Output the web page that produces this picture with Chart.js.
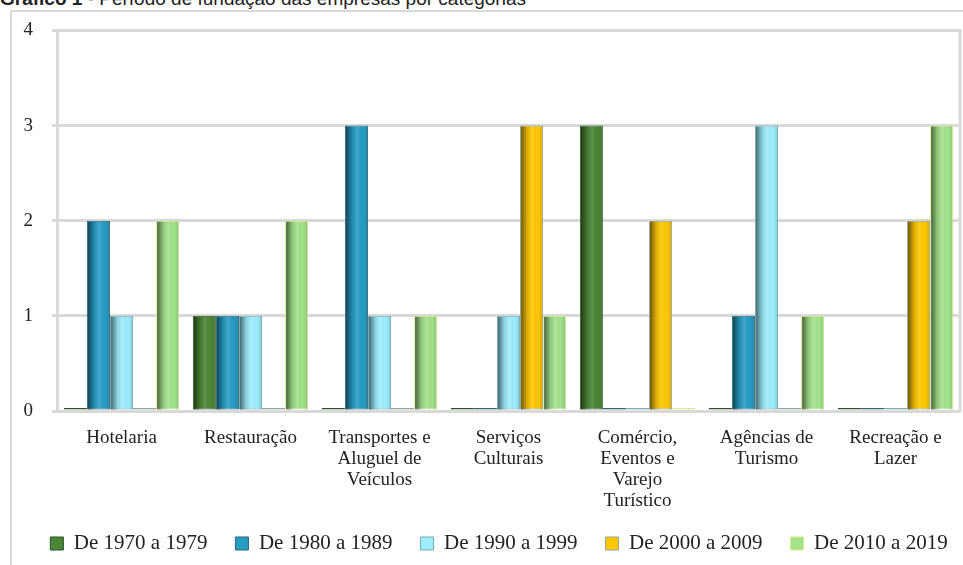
<!DOCTYPE html>
<html lang="pt">
<head>
<meta charset="utf-8">
<title>Gráfico 1</title>
<script src="https://cdn.jsdelivr.net/npm/chart.js@4.4.1/dist/chart.umd.min.js"></script>
<style>
  html, body { margin: 0; padding: 0; background: #fff; }
  body { width: 963px; height: 565px; position: relative; overflow: hidden; }
  .frame { position: absolute; left: 10px; top: 10px; width: 1000px; height: 600px; border: 2px solid #d9d9d9; box-sizing: border-box; }
  .title { position: absolute; left: 0; top: -11px; font: 19px/19px 'Liberation Sans', Arial, sans-serif; color: #222; white-space: nowrap; }
  .title b { font-weight: bold; }
  canvas { position: absolute; left: 0; top: 0; }
</style>
</head>
<body>
<div class="frame"></div>
<div class="title"><b>Gráfico 1</b> - Período de fundação das empresas por categorias</div>
<canvas id="chart" width="963" height="565"></canvas>
<script>
// Categorias (eixo x)
const categories = [
  'Hotelaria',
  'Restauração',
  ['Transportes e', 'Aluguel de', 'Veículos'],
  ['Serviços', 'Culturais'],
  ['Comércio,', 'Eventos e', 'Varejo', 'Turístico'],
  ['Agências de', 'Turismo'],
  ['Recreação e', 'Lazer']
];

// Séries (décadas de fundação)
const seriesLabels = ['De 1970 a 1979', 'De 1980 a 1989', 'De 1990 a 1999', 'De 2000 a 2009', 'De 2010 a 2019'];
const v1970 = [0, 1, 0, 0, 3, 0, 0];
const v1980 = [2, 1, 3, 0, 0, 1, 0];
const v1990 = [1, 1, 1, 1, 0, 3, 0];
const v2000 = [0, 0, 0, 3, 2, 0, 2];
const v2010 = [2, 2, 1, 1, 0, 1, 3];

// Eixo y
const yMin = 0;
const yMax = 4;
const yStep = 1;

const fills   = ['#4a8636', '#279dc6', '#9eeeff', '#ffc800', '#a3e38c'];
const borders = ['#2d4f28', '#2f6470', '#79aab0', '#8fa3a0', '#d9e98c'];
const values  = [v1970, v1980, v1990, v2000, v2010];

const serif = "'Liberation Serif', 'Times New Roman', serif";
const GRID = '#d9d9d9';

// cylinder-ish shading on top of each bar
const shadePlugin = {
  id: 'shade',
  afterDatasetsDraw(chart) {
    const ctx = chart.ctx;
    chart.data.datasets.forEach((ds, i) => {
      const meta = chart.getDatasetMeta(i);
      meta.data.forEach(el => {
        const { x, y, base, width } = el.getProps(['x', 'y', 'base', 'width'], true);
        const h = base - y;
        if (h < 4) return;
        const l = x - width / 2 + 1, r = x + width / 2 - 1;
        const g = ctx.createLinearGradient(l, 0, r, 0);
        g.addColorStop(0, 'rgba(0,0,0,0.55)');
        g.addColorStop(0.3, 'rgba(0,0,0,0.12)');
        g.addColorStop(0.55, 'rgba(255,255,255,0.12)');
        g.addColorStop(0.8, 'rgba(0,0,0,0)');
        g.addColorStop(1, 'rgba(0,0,0,0.12)');
        ctx.save();
        ctx.fillStyle = g;
        ctx.fillRect(l, y + 1, r - l, h - 1);
        ctx.restore();
      });
    });
  }
};

// right border of the plot area + nudge legend into place
const framePlugin = {
  id: 'frameRight',
  afterLayout(chart) {
    const lg = chart.legend;
    if (lg) {
      lg.left += 19;
      lg.right += 19;
      lg.top -= 6;
      lg.bottom -= 6;
    }
  },
  beforeDatasetsDraw(chart) {
    const { ctx, chartArea } = chart;
    ctx.save();
    ctx.strokeStyle = GRID;
    ctx.lineWidth = 3;
    ctx.beginPath();
    ctx.moveTo(chartArea.right, chartArea.top - 1.5);
    ctx.lineTo(chartArea.right, chartArea.bottom + 1.5);
    ctx.stroke();
    ctx.restore();
  }
};

new Chart(document.getElementById('chart'), {
  type: 'bar',
  data: {
    labels: categories,
    datasets: seriesLabels.map((label, i) => ({
      label,
      data: values[i],
      backgroundColor: fills[i],
      borderColor: borders[i],
      borderWidth: 1,
      borderSkipped: false,
      minBarLength: 3,
      clip: false,
      categoryPercentage: 0.895,
      barPercentage: 1.0
    }))
  },
  options: {
    responsive: false,
    animation: false,
    layout: { padding: { left: 0, top: 30, right: 3, bottom: -5 } },
    plugins: {
      title: { display: false },
      tooltip: { enabled: false },
      legend: {
        position: 'bottom',
        labels: {
          color: '#222',
          font: { family: serif, size: 21 },
          boxWidth: 13,
          boxHeight: 13,
          padding: 28
        }
      }
    },
    scales: {
      x: {
        grid: { display: false, drawTicks: false },
        border: { display: false },
        ticks: {
          color: '#222',
          font: { family: serif, size: 19, lineHeight: 1.1 },
          padding: 17,
          maxRotation: 0,
          autoSkip: false
        },
        afterFit(scale) { scale.height = 100; }
      },
      y: {
        min: yMin,
        max: yMax,
        ticks: {
          stepSize: yStep,
          color: '#222',
          font: { family: serif, size: 19 },
          padding: 19
        },
        grid: { color: GRID, lineWidth: 3, tickLength: 5, tickColor: GRID },
        border: { display: true, color: GRID, width: 3 },
        afterFit(scale) { scale.width = 57; }
      }
    }
  },
  plugins: [framePlugin, shadePlugin]
});
</script>
</body>
</html>
